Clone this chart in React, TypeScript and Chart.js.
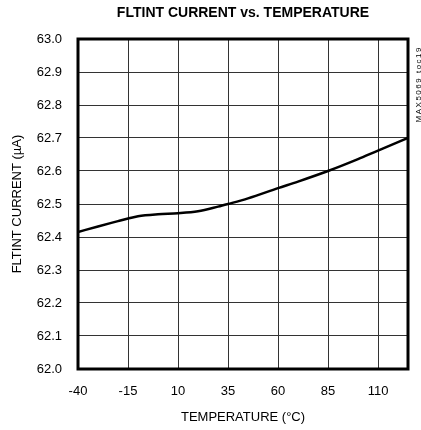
import React, { useEffect, useRef } from "react";
import { Chart, registerables } from "chart.js";

Chart.register(...registerables);

const temperatures = [-40, -30, -20, -15, -10, 0, 10, 20, 30, 35, 45, 60, 70, 85, 100, 110, 125];
const currents = [62.415, 62.432, 62.448, 62.456, 62.463, 62.469, 62.472, 62.478, 62.492, 62.5, 62.517, 62.548, 62.568, 62.6, 62.636, 62.662, 62.7];
const xTicks = [-40, -15, 10, 35, 60, 85, 110];
const yTicks = [62.0, 62.1, 62.2, 62.3, 62.4, 62.5, 62.6, 62.7, 62.8, 62.9, 63.0];
const chartTitle = "FLTINT CURRENT vs. TEMPERATURE";
const xTitle = "TEMPERATURE (°C)";
const yTitle = "FLTINT CURRENT (µA)";
const sideNote = "MAX5069 toc19";

const FONT = "'Liberation Sans', Arial, Helvetica, sans-serif";

export default function App() {
  const ref = useRef<HTMLCanvasElement | null>(null);
  useEffect(() => {
    if (!ref.current) return;
    const extras = {
      id: "extras",
      afterDraw(chart: any) {
        const { ctx, chartArea } = chart;
        ctx.save();
        ctx.strokeStyle = "#000";
        ctx.lineWidth = 3;
        ctx.strokeRect(chartArea.left, chartArea.top, chartArea.right - chartArea.left, chartArea.bottom - chartArea.top);
        ctx.fillStyle = "#000";
        ctx.font = `bold 14px ${FONT}`;
        ctx.textAlign = "center";
        ctx.textBaseline = "middle";
        ctx.fillText(chartTitle, (chartArea.left + chartArea.right) / 2, 13);
        ctx.translate(419, chartArea.top + 7);
        ctx.rotate(-Math.PI / 2);
        ctx.font = `8px ${FONT}`;
        try {
          (ctx as any).letterSpacing = "1.5px";
        } catch (e) {}
        ctx.textAlign = "right";
        ctx.fillText(sideNote, 0, 0);
        ctx.restore();
      },
    };
    const chart = new Chart(ref.current, {
      type: "line",
      data: {
        datasets: [
          {
            data: temperatures.map((t, i) => ({ x: t, y: currents[i] })),
            borderColor: "#000",
            borderWidth: 2.5,
            pointRadius: 0,
            cubicInterpolationMode: "monotone",
            fill: false,
          },
        ],
      },
      options: {
        responsive: false,
        animation: false,
        layout: { padding: { top: 39, right: 13, left: 0, bottom: 0 } },
        plugins: { legend: { display: false }, title: { display: false }, tooltip: { enabled: false } },
        scales: {
          x: {
            type: "linear",
            min: -40,
            max: 125,
            afterBuildTicks: (scale: any) => {
              scale.ticks = xTicks.map((v) => ({ value: v }));
            },
            afterFit: (scale: any) => {
              scale.height = 61;
            },
            grid: { color: "#333", lineWidth: 1, drawTicks: false },
            border: { display: false },
            ticks: {
              padding: 15,
              color: "#000",
              font: { family: FONT, size: 13 },
              maxRotation: 0,
              callback: (v: any) => String(v),
            },
            title: {
              display: true,
              text: xTitle,
              color: "#000",
              font: { family: FONT, size: 13 },
              padding: { top: 0, bottom: 5 },
            },
          },
          y: {
            type: "linear",
            min: 62.0,
            max: 63.0,
            afterBuildTicks: (scale: any) => {
              scale.ticks = yTicks.map((v) => ({ value: v }));
            },
            afterFit: (scale: any) => {
              scale.width = 78;
            },
            grid: { color: "#333", lineWidth: 1, drawTicks: false },
            border: { display: false },
            ticks: {
              padding: 16,
              color: "#000",
              font: { family: FONT, size: 13 },
              callback: (v: any) => Number(v).toFixed(1),
            },
            title: {
              display: true,
              text: yTitle,
              color: "#000",
              font: { family: FONT, size: 13 },
              padding: { top: 10, bottom: 0 },
            },
          },
        },
      },
      plugins: [extras],
    } as any);
    return () => chart.destroy();
  }, []);
  return (
    <div style={{ position: "fixed", left: 0, top: 0, width: 421, height: 430, background: "#fff" }}>
      <canvas ref={ref} width={421} height={430} />
    </div>
  );
}
